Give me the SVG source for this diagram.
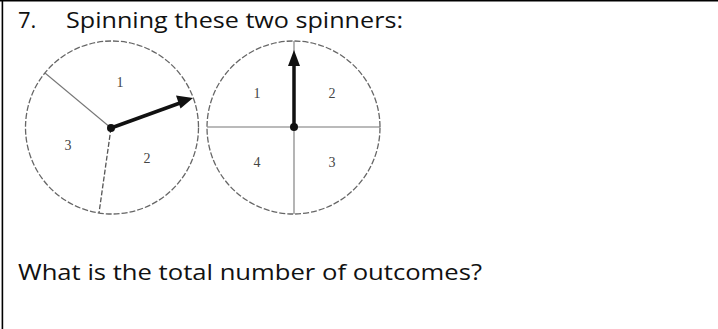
<svg xmlns="http://www.w3.org/2000/svg" width="718" height="329" viewBox="0 0 718 329">
<style>
.q{font-family:"Open Sans","Liberation Sans",sans-serif;font-size:22px;fill:#111}
.num{font-family:"Liberation Serif",serif;font-size:14px;fill:#444;text-anchor:middle}
.rim{fill:none;stroke:#666;stroke-width:1.3;stroke-dasharray:6 2}
.div{stroke:#777;stroke-width:1.1}
.dash{stroke:#555;stroke-width:1.3;stroke-dasharray:5 2}
.ptr{stroke:#111;stroke-width:3.5;fill:none}
.hub{fill:#111}
.head{fill:#111}
</style>
<rect x="0" y="0" width="718" height="329" fill="#fff"/>
<g id="frame">
<line x1="0" y1="0.8" x2="718" y2="0.8" stroke="#000" stroke-width="1.6"/>
<line x1="2.4" y1="0" x2="2.4" y2="329" stroke="#000" stroke-width="1.6"/>
</g>
<g id="question-title">
<text class="q" x="18" y="28">7.</text>
<text class="q" x="66" y="28" textLength="337" lengthAdjust="spacingAndGlyphs">Spinning these two spinners:</text>
</g>
<g id="spinner-left">
<circle class="rim" cx="112" cy="127.5" r="86.5"/>
<line class="div" x1="111" y1="128" x2="45" y2="73"/>
<line class="dash" x1="111" y1="128" x2="99" y2="213"/>
<line class="ptr" x1="111" y1="128" x2="180" y2="103"/>
<polygon class="head" points="193,98 176,95.5 180.5,108.5"/>
<circle class="hub" cx="111" cy="128" r="4"/>
<text class="num" x="120" y="87">1</text>
<text class="num" x="68" y="150">3</text>
<text class="num" x="147" y="163">2</text>
</g>
<g id="spinner-right">
<circle class="rim" cx="293.5" cy="127.5" r="86.5"/>
<line class="div" x1="294" y1="41" x2="294" y2="214"/>
<line class="div" x1="207" y1="127" x2="380" y2="127"/>
<line class="ptr" x1="294" y1="127" x2="294" y2="62" stroke-width="4"/>
<polygon class="head" points="294,50 288,66 300,66"/>
<circle class="hub" cx="294" cy="127" r="4"/>
<text class="num" x="257" y="98">1</text>
<text class="num" x="332" y="98">2</text>
<text class="num" x="257" y="167">4</text>
<text class="num" x="332" y="167">3</text>
</g>
<g id="question-body">
<text class="q" x="18" y="280" textLength="464" lengthAdjust="spacingAndGlyphs">What is the total number of outcomes?</text>
</g>
</svg>
